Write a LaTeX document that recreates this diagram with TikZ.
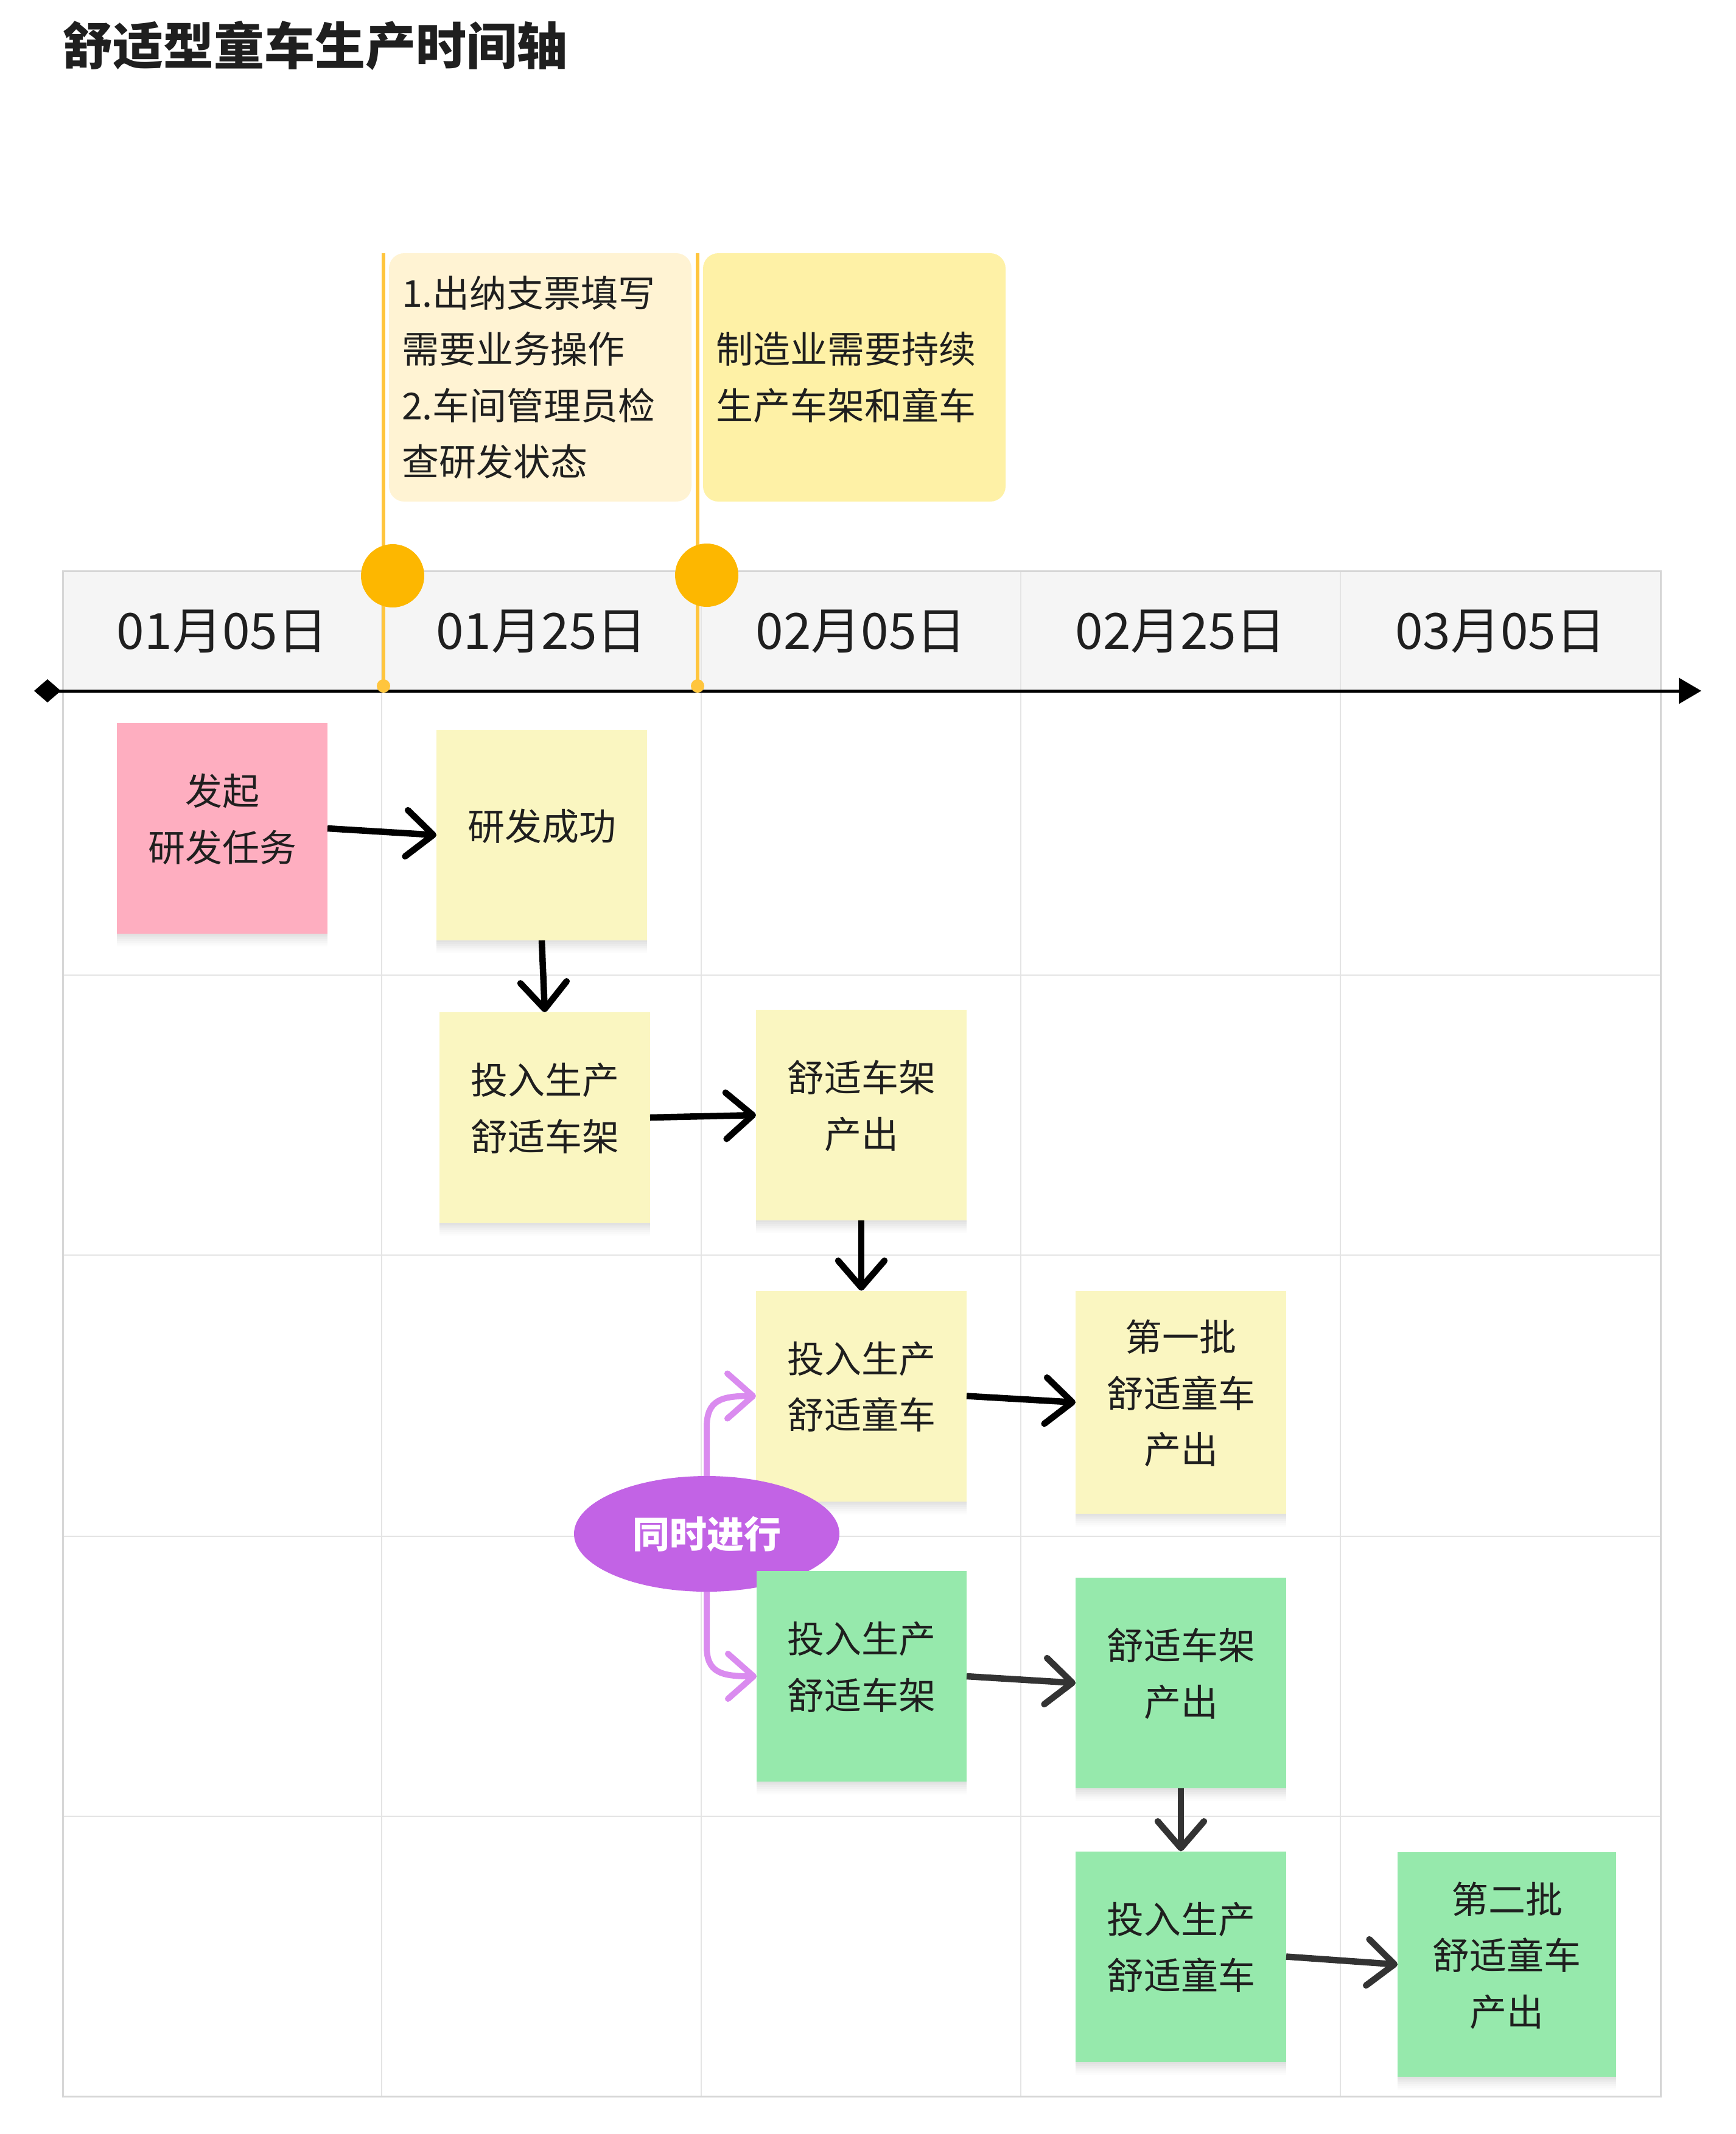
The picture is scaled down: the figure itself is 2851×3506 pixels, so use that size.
\documentclass[tikz,border=0pt]{standalone}
\usepackage{fontspec}
\setmainfont{Noto Sans CJK SC}
\usetikzlibrary{arrows.meta,shapes.geometric}
\definecolor{txt}{HTML}{1F1F1F}
\definecolor{pinkbox}{HTML}{FEAEC0}
\definecolor{yelbox}{HTML}{FAF6C1}
\definecolor{greenbox}{HTML}{96E9AC}
\definecolor{noteA}{HTML}{FFF3D3}
\definecolor{noteB}{HTML}{FEF1A6}
\definecolor{headfill}{HTML}{F5F5F5}
\definecolor{gridc}{HTML}{E4E4E4}
\definecolor{framec}{HTML}{D6D6D6}
\definecolor{tyellow}{HTML}{FFC53D}
\definecolor{gold}{HTML}{FDB700}
\definecolor{purplefill}{HTML}{C263E5}
\definecolor{purpleline}{HTML}{DA8BEF}
\definecolor{darkarrow}{HTML}{333333}
\begin{document}
\begin{tikzpicture}[x=1pt,y=-1pt,
  stickybox/.style={draw=none, minimum width=346pt, minimum height=346pt, inner sep=0pt, outer sep=0pt,
    preaction={fill=black,fill opacity=0.018,transform canvas={yshift=-3pt}},
    preaction={fill=black,fill opacity=0.018,transform canvas={yshift=-6pt}},
    preaction={fill=black,fill opacity=0.018,transform canvas={yshift=-9pt}},
    preaction={fill=black,fill opacity=0.018,transform canvas={yshift=-12pt}},
    preaction={fill=black,fill opacity=0.015,transform canvas={yshift=-15pt}},
    preaction={fill=black,fill opacity=0.012,transform canvas={yshift=-18pt}},
    preaction={fill=black,fill opacity=0.01,transform canvas={yshift=-21pt}}},
  stickytext/.style={font=\fontsize{61pt}{92.5pt}\selectfont, text=txt, align=center, inner sep=0pt},
  notebox/.style={rounded corners=25pt, minimum width=497pt, minimum height=408pt, text width=455pt,
    align=left, inner xsep=21pt, inner ysep=0pt, font=\fontsize{61pt}{92.5pt}\selectfont, text=txt},
  datelabel/.style={font=\fontsize{82pt}{98pt}\selectfont, text=txt, inner sep=0pt},
  gridline/.style={draw=gridc, line width=2.5pt},
  tline/.style={draw=tyellow, line width=6pt},
  flow/.style={draw=black, line width=10.5pt, -{Straight Barb[length=44pt,width=76pt,round]}},
  flowdark/.style={flow, draw=darkarrow},
  pflow/.style={draw=purpleline, line width=10pt, -{Straight Barb[length=42pt,width=74pt,round]}},
]
\useasboundingbox (0,0) rectangle (2851,3506);

% title
\node[anchor=west, font=\bfseries\fontsize{83pt}{100pt}\selectfont, text=txt, inner sep=0pt] (title) at (102,75) {舒适型童车生产时间轴};

% header band and grid
\fill[headfill] (103,938) rectangle (2728,1135);
\foreach \x in {627,1152,1677,2202} \draw[gridline] (\x,938) -- (\x,3444);
\foreach \y in {1602,2062,2524,2984} \draw[gridline] (103,\y) -- (2728,\y);
\draw[draw=framec, line width=3pt] (103,938) rectangle (2728,3444);

% date labels
\node[datelabel] (d1) at (365,1038) {01月05日};
\node[datelabel] (d2) at (889.5,1038) {01月25日};
\node[datelabel] (d3) at (1414.5,1038) {02月05日};
\node[datelabel] (d4) at (1939.5,1038) {02月25日};
\node[datelabel] (d5) at (2465,1038) {03月05日};

% axis
\coordinate (axL) at (56,1135);
\coordinate (axR) at (2795,1135);
\draw[line width=5pt, {Diamond[length=44pt,width=38pt]}-{Triangle[length=37pt,width=42pt]}] (axL) -- (axR);

% notes
\node[notebox, fill=noteA] (N1) at (887.5,620) {1.出纳支票填写\\需要业务操作\\2.车间管理员检\\查研发状态};
\node[notebox, fill=noteB] (N2) at (1403.5,620) {制造业需要持续\\生产车架和童车};

% milestone lines
\coordinate (t1) at (630,416);
\coordinate (t2) at (1146,416);
\node[circle, fill=tyellow, minimum size=22pt, inner sep=0pt] (p1) at (630,1127) {};
\node[circle, fill=tyellow, minimum size=22pt, inner sep=0pt] (p2) at (1146,1127) {};
\draw[tline] (t1) -- (p1.center);
\draw[tline] (t2) -- (p2.center);
\node[circle, fill=gold, minimum size=104pt, inner sep=0pt] (c1) at (645,946) {};
\node[circle, fill=gold, minimum size=104pt, inner sep=0pt] (c2) at (1161,945) {};

% sticky notes (first group)
\node[stickybox, fill=pinkbox] (A) at (365,1361) {};
\node[stickytext] (At) at ([yshift=15pt]A.center) {发起\\研发任务};
\node[stickybox, fill=yelbox] (B) at (890,1372) {};
\node[stickytext] (Bt) at ([yshift=15pt]B.center) {研发成功};
\node[stickybox, fill=yelbox] (C) at (895,1836) {};
\node[stickytext] (Ct) at ([yshift=15pt]C.center) {投入生产\\舒适车架};
\node[stickybox, fill=yelbox] (D) at (1415,1832) {};
\node[stickytext] (Dt) at ([yshift=15pt]D.center) {舒适车架\\产出};
\node[stickybox, fill=yelbox] (E) at (1415,2293.5) {};
\node[stickytext] (Et) at ([yshift=15pt]E.center) {投入生产\\舒适童车};
\node[stickybox, fill=yelbox, minimum height=366pt] (F) at (1940,2304) {};
\node[stickytext] (Ft) at ([yshift=15pt]F.center) {第一批\\舒适童车\\产出};

% parallel ellipse
\node[ellipse, fill=purplefill, minimum width=436pt, minimum height=190pt, inner sep=0pt,
  text=white, font=\bfseries\fontsize{61pt}{70pt}\selectfont] (K) at (1161,2520) {同时进行};

% sticky notes (second group)
\node[stickybox, fill=greenbox, minimum width=345pt] (G) at (1415.5,2754) {};
\node[stickytext] (Gt) at ([yshift=15pt]G.center) {投入生产\\舒适车架};
\node[stickybox, fill=greenbox] (H) at (1940,2765) {};
\node[stickytext] (Ht) at ([yshift=15pt]H.center) {舒适车架\\产出};
\node[stickybox, fill=greenbox] (I) at (1940,3214.5) {};
\node[stickytext] (It) at ([yshift=15pt]I.center) {投入生产\\舒适童车};
\node[stickybox, fill=greenbox, minimum width=359pt, minimum height=369pt] (J) at (2475.5,3227.5) {};
\node[stickytext] (Jt) at ([yshift=15pt]J.center) {第二批\\舒适童车\\产出};

% connectors
\draw[flow] (A.east) -- (B.west);
\draw[flow] (B.south) -- (C.north);
\draw[flow] (C.east) -- (D.west);
\draw[flow] (D.south) -- (E.north);
\draw[flow] (E.east) -- (F.west);
\draw[flowdark] (G.east) -- (H.west);
\draw[flowdark] (H.south) -- (I.north);
\draw[flowdark] (I.east) -- (J.west);

% parallel branches
\draw[pflow] (K.north) -- (1161,2345) .. controls (1161,2300) and (1185,2293.5) .. (E.west);
\draw[pflow] (K.south) -- (1161,2705) .. controls (1161,2748) and (1185,2754) .. (G.west);
\end{tikzpicture}
\end{document}
